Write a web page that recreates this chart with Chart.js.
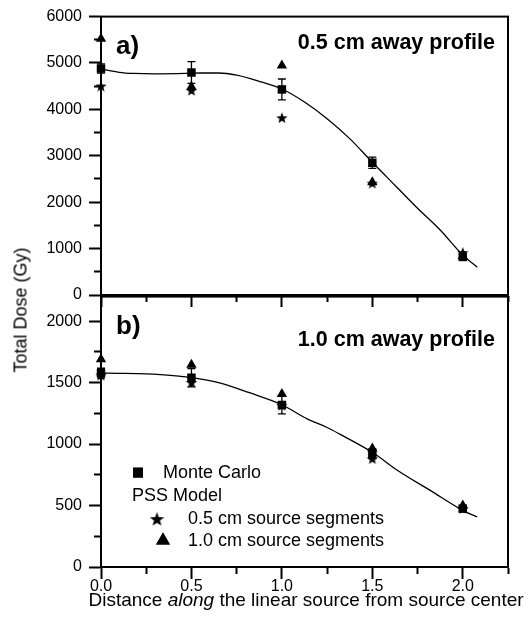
<!DOCTYPE html>
<html>
<head>
<meta charset="utf-8">
<script src="https://cdn.jsdelivr.net/npm/chart.js@4.4.0/dist/chart.umd.min.js"></script>
<style>
  body { margin: 0; background: #fff; }
  #wrap { position: relative; width: 529px; height: 618px; font-family: "Liberation Sans", Arial, sans-serif; color: #000; }
  #c1 { position: absolute; left: 0; top: 0; }
  #c2 { position: absolute; left: 0; top: 280px; }
  .ytitle { position: absolute; left: 21px; top: 310px; transform: translate(-50%, -50%) rotate(-90deg); font-size: 18px; white-space: nowrap; }
  .xtitle { position: absolute; left: 306px; top: 600px; transform: translate(-50%, -50%); font-size: 19px; white-space: nowrap; }
</style>
</head>
<body>
<div id="wrap">
  <canvas id="c1" width="529" height="312"></canvas>
  <canvas id="c2" width="529" height="338"></canvas>
  <div class="ytitle">Total Dose (Gy)</div>
  <div class="xtitle">Distance <i>along</i> the linear source from source center</div>
</div>
<script>
// distances along the source (cm)
const distances = [0, 0.5, 1.0, 1.5, 2.0];

// panel a) 0.5 cm away profile
const monteCarloA = [4880, 4795, 4430, 2850, 820];
const monteCarloAErr = [100, 235, 225, 120, 50];
const seg05A = [4515, 4420, 3830, 2420, 925];
const seg10A = [5525, 4490, 4945, 2430, 840];
const fitAX = [0, 0.1, 0.18, 0.3, 0.47, 0.55, 0.65, 0.75, 0.88, 1.0, 1.125, 1.25, 1.375, 1.5, 1.625, 1.75, 1.875, 2.0, 2.08];
const fitAY = [4870, 4800, 4775, 4765, 4775, 4785, 4785, 4740, 4600, 4440, 4160, 3800, 3370, 2860, 2365, 1870, 1400, 860, 600];

// panel b) 1.0 cm away profile
const monteCarloB = [1577, 1540, 1318, 922, 475];
const monteCarloBErr = [40, 75, 72, 40, 25];
const seg05B = [1565, 1505, 1320, 885, 480];
const seg10B = [1690, 1645, 1407, 965, 500];
const fitBX = [0, 0.1, 0.25, 0.33, 0.5, 0.65, 0.82, 1.0, 1.14, 1.25, 1.32, 1.5, 1.64, 1.82, 2.0, 2.08];
const fitBY = [1577, 1576, 1572, 1565, 1540, 1500, 1418, 1320, 1205, 1135, 1081, 933, 785, 623, 461, 407];

// axis ticks
const xTicks = [0, 0.25, 0.5, 0.75, 1.0, 1.25, 1.5, 1.75, 2.0, 2.25];
const xMajor = 0.5, xMax = 2.25;
const yTicksA = [0, 500, 1000, 1500, 2000, 2500, 3000, 3500, 4000, 4500, 5000, 5500, 6000];
const yMajorA = 1000, yMaxA = 6000;
const yTicksB = [0, 250, 500, 750, 1000, 1250, 1500, 1750, 2000];
const yMajorB = 500, yMaxB = 2200;

const FONT = '"Liberation Sans", Arial, sans-serif';
Chart.defaults.font.family = FONT;
Chart.defaults.color = '#000';

function isMajor(v, m) {
  return Math.abs(v / m - Math.round(v / m)) < 1e-6;
}

function makeStar(size) {
  const c = document.createElement('canvas');
  c.width = size; c.height = size;
  const g = c.getContext('2d');
  const r = size / 2, ri = r * 0.42;
  g.beginPath();
  for (let k = 0; k < 10; k++) {
    const a = -Math.PI / 2 + k * Math.PI / 5;
    const rr = k % 2 ? ri : r;
    g.lineTo(r + rr * Math.cos(a), r + 1 + rr * Math.sin(a));
  }
  g.closePath();
  g.fillStyle = '#000';
  g.fill();
  return c;
}
const starData = makeStar(12);
const starLegend = makeStar(15);

const pts = (xs, ys) => xs.map((x, i) => ({ x: x, y: ys[i] }));

// box around the plot area
const framePlugin = {
  id: 'frame',
  beforeDatasetsDraw(chart) {
    const a = chart.chartArea, ctx = chart.ctx;
    ctx.save();
    ctx.strokeStyle = '#000';
    ctx.lineWidth = 2;
    ctx.strokeRect(a.left, a.top, a.right - a.left, a.bottom - a.top);
    ctx.restore();
  }
};

// vertical error bars on the Monte Carlo points
const errorBarPlugin = {
  id: 'errorBars',
  beforeDatasetsDraw(chart, args, opts) {
    const meta = chart.getDatasetMeta(opts.datasetIndex);
    const ds = chart.data.datasets[opts.datasetIndex];
    const ys = chart.scales.y, ctx = chart.ctx;
    ctx.save();
    ctx.strokeStyle = '#000';
    ctx.lineWidth = 1.3;
    meta.data.forEach((p, i) => {
      const v = ds.data[i].y, e = opts.errors[i];
      const top = ys.getPixelForValue(v + e), bot = ys.getPixelForValue(v - e);
      ctx.beginPath();
      ctx.moveTo(p.x, top); ctx.lineTo(p.x, bot);
      ctx.moveTo(p.x - 4, top); ctx.lineTo(p.x + 4, top);
      ctx.moveTo(p.x - 4, bot); ctx.lineTo(p.x + 4, bot);
      ctx.stroke();
    });
    ctx.restore();
  }
};

// panel letter and profile title
const panelTextPlugin = {
  id: 'panelText',
  afterDatasetsDraw(chart, args, opts) {
    const a = chart.chartArea, ctx = chart.ctx;
    ctx.save();
    ctx.fillStyle = '#000';
    ctx.textBaseline = 'alphabetic';
    ctx.font = 'bold 26px ' + FONT;
    ctx.textAlign = 'left';
    ctx.fillText(opts.letter, a.left + 15, a.top + opts.letterY);
    ctx.font = 'bold 21.5px ' + FONT;
    ctx.textAlign = 'right';
    ctx.fillText(opts.title, a.right - 13, a.top + opts.titleY);
    ctx.restore();
  }
};

// legend in the lower panel
const legendPlugin = {
  id: 'customLegend',
  afterDatasetsDraw(chart, args, opts) {
    if (!opts.show) return;
    const a = chart.chartArea, ctx = chart.ctx;
    const x0 = a.left, y0 = a.top;
    ctx.save();
    ctx.fillStyle = '#000';
    ctx.strokeStyle = '#000';
    ctx.font = '18px ' + FONT;
    ctx.textBaseline = 'middle';
    ctx.textAlign = 'left';
    Chart.helpers.drawPoint(ctx, { pointStyle: 'rect', radius: 7, borderWidth: 0 }, x0 + 37, y0 + 176);
    ctx.fill();
    ctx.fillText('Monte Carlo', x0 + 62, y0 + 176);
    ctx.fillText('PSS Model', x0 + 31, y0 + 199);
    ctx.drawImage(starLegend, x0 + 56 - 7.5, y0 + 222 - 7.5);
    ctx.fillText('0.5 cm source segments', x0 + 87, y0 + 222);
    Chart.helpers.drawPoint(ctx, { pointStyle: 'triangle', radius: 8, borderWidth: 0 }, x0 + 62, y0 + 244);
    ctx.fill();
    ctx.fillText('1.0 cm source segments', x0 + 87, y0 + 244);
    ctx.restore();
  }
};

function xScale(showLabels, height) {
  return {
    type: 'linear', position: 'bottom', min: 0, max: xMax,
    afterFit: s => { s.height = height; },
    afterBuildTicks: s => { s.ticks = xTicks.map(v => ({ value: v })); },
    border: { color: '#000', width: 2 },
    grid: {
      drawOnChartArea: false, drawTicks: true, tickLength: 12, tickWidth: 2, tickColor: '#000',
      tickBorderDash: c => (c.tick && isMajor(c.tick.value, xMajor)) ? [] : [6, 100]
    },
    ticks: {
      autoSkip: false, maxRotation: 0, padding: -2,
      font: { size: 16 }, color: '#000',
      callback: v => (showLabels && isMajor(v, xMajor)) ? v.toFixed(1) : ''
    }
  };
}

function yScale(max, tickVals, major) {
  return {
    type: 'linear', position: 'left', min: 0, max: max,
    afterFit: s => { s.width = 101; },
    afterBuildTicks: s => { s.ticks = tickVals.map(v => ({ value: v })); },
    border: { color: '#000', width: 2 },
    grid: {
      drawOnChartArea: false, drawTicks: true, tickLength: 12, tickWidth: 2, tickColor: '#000',
      tickBorderDash: c => (c.tick && isMajor(c.tick.value, major)) ? [] : [0, 5, 6, 100]
    },
    ticks: {
      autoSkip: false, padding: 7,
      font: { size: 16 }, color: '#000',
      callback: v => isMajor(v, major) ? v : ''
    }
  };
}

function makePanel(id, p) {
  return new Chart(document.getElementById(id), {
    type: 'scatter',
    data: {
      datasets: [
        { label: 'Monte Carlo', data: pts(distances, p.mc), pointStyle: 'rect', pointRadius: 6,
          backgroundColor: '#000', borderWidth: 0, clip: false },
        { label: '0.5 cm source segments', data: pts(distances, p.s05), pointStyle: starData,
          backgroundColor: '#000', clip: false },
        { label: '1.0 cm source segments', data: pts(distances, p.s10), pointStyle: 'triangle', pointRadius: 6,
          backgroundColor: '#000', borderWidth: 0, clip: false },
        { label: 'fit', data: pts(p.fx, p.fy), showLine: true, pointRadius: 0,
          borderColor: '#000', borderWidth: 1.3, cubicInterpolationMode: 'monotone' }
      ]
    },
    options: {
      responsive: false,
      animation: false,
      events: [],
      layout: { padding: { top: p.padTop, right: 21, left: 0, bottom: 0 } },
      scales: {
        x: xScale(p.xLabels, p.xHeight),
        y: yScale(p.yMax, p.yTicks, p.yMajor)
      },
      plugins: {
        legend: { display: false },
        tooltip: { enabled: false },
        errorBars: { datasetIndex: 0, errors: p.err },
        panelText: { letter: p.letter, letterY: 37, title: p.title, titleY: p.titleY },
        customLegend: { show: p.legend }
      }
    },
    plugins: [framePlugin, errorBarPlugin, panelTextPlugin, legendPlugin]
  });
}

makePanel('c1', {
  mc: monteCarloA, err: monteCarloAErr, s05: seg05A, s10: seg10A, fx: fitAX, fy: fitAY,
  yMax: yMaxA, yTicks: yTicksA, yMajor: yMajorA, padTop: 16, xHeight: 17, xLabels: false,
  letter: 'a)', title: '0.5 cm away profile', titleY: 32, legend: false
});

makePanel('c2', {
  mc: monteCarloB, err: monteCarloBErr, s05: seg05B, s10: seg10B, fx: fitBX, fy: fitBY,
  yMax: yMaxB, yTicks: yTicksB, yMajor: yMajorB, padTop: 15, xHeight: 51, xLabels: true,
  letter: 'b)', title: '1.0 cm away profile', titleY: 49, legend: true
});
</script>
</body>
</html>
